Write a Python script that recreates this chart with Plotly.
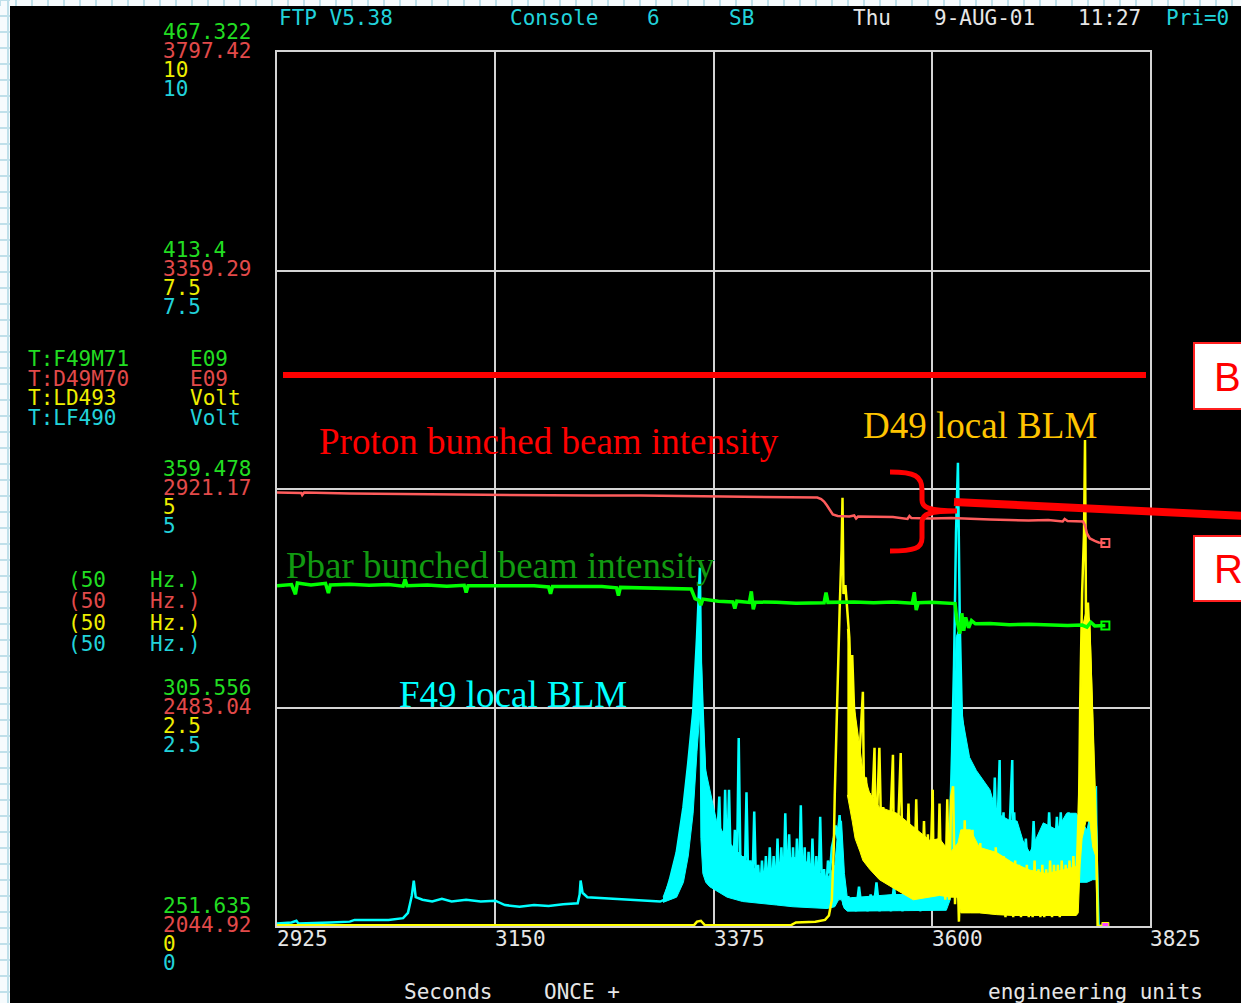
import plotly.graph_objects as go

W, H = 1241, 1003

# ---------------- data ----------------
x_tick_vals = [2925, 3150, 3375, 3600, 3825]
volt_grid = [10, 7.5, 5, 2.5, 0]
green_tick_labels = ["467.322", "413.4", "359.478", "305.556", "251.635"]
red_tick_labels = ["3797.42", "3359.29", "2921.17", "2483.04", "2044.92"]
yellow_tick_labels = ["10", "7.5", "5", "2.5", "0"]
cyan_tick_labels = ["10", "7.5", "5", "2.5", "0"]
green_range = [251.635, 467.322]
red_range = [2044.92, 3797.42]

channels = ["T:F49M71", "T:D49M70", "T:LD493", "T:LF490"]
units = ["E09", "E09", "Volt", "Volt"]

# T:D49M70 proton bunched intensity (E09)
d49m70 = [(2925, 2914), (2950, 2913), (2951, 2909), (2953, 2914), (3000, 2912), (3050, 2911),
          (3100, 2911), (3150, 2910), (3200, 2909), (3250, 2908), (3300, 2908), (3350, 2907),
          (3400, 2906), (3450, 2905), (3482, 2904), (3486, 2901), (3489, 2896), (3492, 2888),
          (3495, 2878), (3498, 2870), (3503, 2867), (3515, 2866), (3520, 2868), (3522, 2862),
          (3524, 2866), (3560, 2865), (3575, 2861), (3577, 2867), (3579, 2863), (3600, 2862),
          (3620, 2863), (3640, 2861), (3660, 2860), (3680, 2859), (3700, 2858), (3720, 2859),
          (3735, 2856), (3737, 2861), (3740, 2857), (3756, 2856), (3758, 2848), (3760, 2832),
          (3763, 2822), (3768, 2817), (3772, 2814), (3779, 2813)]

# T:F49M71 pbar bunched intensity (E09)
f49m71 = [(2925, 335.6), (2940, 335.9), (2944, 333.5), (2946, 336.3), (2960, 335.8), (2975, 336.2),
          (2978, 333.8), (2980, 335.8), (3000, 336.0), (3020, 335.7), (3040, 335.9), (3055, 335.5),
          (3057, 337.2), (3059, 335.6), (3080, 335.8), (3100, 335.5), (3118, 335.7), (3120, 333.9),
          (3122, 335.6), (3150, 335.6), (3175, 335.4), (3190, 335.6), (3205, 335.3), (3207, 333.6),
          (3209, 335.4), (3240, 335.3), (3260, 335.4), (3275, 335.1), (3277, 333.2), (3279, 335.2),
          (3300, 335.1), (3320, 334.9), (3340, 335.0), (3352, 334.8), (3356, 332.4), (3360, 332.0),
          (3362, 330.8), (3364, 332.3), (3380, 331.8), (3395, 331.6), (3397, 330.0), (3399, 331.8),
          (3412, 331.5), (3414, 334.2), (3416, 329.8), (3418, 331.6), (3440, 331.5), (3460, 331.3),
          (3489, 331.4), (3491, 333.9), (3493, 331.5), (3520, 331.6), (3540, 331.4), (3560, 331.6),
          (3580, 331.3), (3582, 334.0), (3584, 329.6), (3586, 331.4), (3600, 331.5), (3615, 331.4),
          (3624, 331.2), (3626, 327.0), (3629, 323.8), (3631, 328.8), (3633, 324.5), (3635, 327.8),
          (3638, 325.2), (3641, 327.0), (3645, 326.2), (3660, 326.3), (3680, 326.0), (3700, 326.1),
          (3720, 325.9), (3740, 325.8), (3755, 325.9), (3760, 325.4), (3764, 326.6), (3768, 325.7),
          (3779, 325.8)]

# T:LF490 F49 local BLM (Volt) - trace with spikes
lf490 = [(2925, 0.03), (2940, 0.04), (2945, 0.06), (2947, 0.03), (2980, 0.04), (3000, 0.05),
         (3005, 0.07), (3040, 0.07), (3055, 0.09), (3060, 0.15), (3062, 0.25), (3064, 0.35),
         (3066, 0.52), (3068, 0.33), (3075, 0.30), (3085, 0.28), (3095, 0.31), (3105, 0.28),
         (3120, 0.30), (3135, 0.28), (3150, 0.29), (3160, 0.24), (3175, 0.22), (3190, 0.24),
         (3205, 0.23), (3220, 0.25), (3235, 0.26), (3237, 0.36), (3238, 0.52), (3240, 0.38),
         (3245, 0.33), (3260, 0.32), (3275, 0.31), (3290, 0.30), (3305, 0.29), (3320, 0.28),
         (3324, 0.3), (3330, 0.53), (3337, 0.84), (3344, 1.36), (3349, 1.87), (3354, 2.44),
         (3358, 3.3), (3361, 4.1), (3362, 3.0), (3364, 2.4), (3366, 1.8), (3368, 1.6), (3371, 1.3),
         (3373, 0.7), (3375, 1.1), (3377, 0.6), (3379, 1.0), (3381, 1.48), (3383, 0.6),
         (3385, 0.5), (3387, 1.56), (3389, 0.6), (3391, 1.56), (3393, 0.6), (3395, 0.55),
         (3397, 1.1), (3399, 0.5), (3401, 2.15), (3403, 0.5), (3405, 0.8), (3407, 0.4),
         (3409, 1.53), (3411, 0.4), (3413, 0.75), (3415, 0.4), (3417, 1.31), (3419, 0.38),
         (3421, 0.7), (3423, 0.35), (3425, 0.75), (3427, 0.35), (3429, 0.8), (3431, 0.33),
         (3433, 0.9), (3435, 0.32), (3437, 0.8), (3439, 0.33), (3441, 1.0), (3443, 0.32),
         (3445, 0.9), (3447, 0.32), (3449, 1.29), (3451, 0.33), (3453, 1.05), (3455, 0.32),
         (3457, 0.9), (3459, 0.3), (3461, 1.0), (3463, 0.32), (3465, 1.38), (3467, 0.3),
         (3469, 0.9), (3471, 0.3), (3473, 0.85), (3475, 0.3), (3477, 1.0), (3479, 0.3),
         (3481, 0.8), (3483, 0.32), (3485, 1.25), (3487, 0.32), (3489, 0.65), (3491, 0.35),
         (3493, 0.75), (3495, 0.6), (3497, 0.9), (3499, 1.0), (3501, 1.15), (3503, 1.0),
         (3505, 1.27), (3507, 0.9), (3509, 0.25), (3511, 0.2),
         (3514, 0.34), (3516, 0.18), (3519, 0.33), (3522, 0.17), (3525, 0.45), (3528, 0.18),
         (3531, 0.32), (3534, 0.17), (3537, 0.36), (3540, 0.18), (3543, 0.5), (3546, 0.17),
         (3549, 0.34), (3552, 0.18), (3555, 0.31), (3558, 0.17), (3561, 0.45), (3564, 0.18),
         (3567, 0.3), (3570, 0.17), (3573, 0.5), (3576, 0.18), (3579, 0.35), (3582, 0.18),
         (3585, 0.45), (3588, 0.17), (3591, 0.34), (3594, 0.19), (3597, 0.5), (3600, 0.18),
         (3603, 0.33), (3606, 0.19), (3609, 0.45), (3612, 0.2), (3615, 0.4), (3617, 0.8),
         (3619, 1.2), (3621, 2.0), (3623, 3.0), (3625, 4.5), (3627, 5.3),
         (3629, 3.4), (3631, 2.4), (3633, 2.2), (3635, 1.6), (3637, 2.0), (3639, 1.4),
         (3641, 1.8), (3643, 1.2), (3645, 1.7), (3647, 1.1), (3649, 1.5), (3651, 1.0),
         (3653, 1.6), (3655, 0.95), (3657, 1.4), (3659, 0.9), (3661, 1.3), (3663, 0.9),
         (3665, 1.7), (3667, 0.85), (3670, 1.9), (3671, 0.8), (3674, 1.3), (3675, 0.8),
         (3677, 1.1), (3679, 0.75), (3683, 1.9), (3684, 0.7), (3685, 1.3), (3687, 0.7),
         (3689, 0.9), (3691, 0.65), (3693, 0.85), (3695, 0.65), (3697, 1.0), (3699, 0.65),
         (3701, 0.85), (3703, 0.7), (3705, 1.2), (3707, 0.7), (3709, 0.9), (3711, 0.7),
         (3713, 1.05), (3715, 0.75), (3717, 1.0), (3719, 0.8), (3721, 1.3), (3723, 0.8),
         (3725, 1.1), (3727, 0.85), (3729, 1.25), (3731, 0.85), (3733, 1.3), (3735, 0.9),
         (3737, 1.2), (3739, 0.9), (3741, 1.3), (3743, 0.9), (3745, 1.2), (3747, 0.85),
         (3749, 1.1), (3751, 0.8), (3753, 0.9), (3757, 0.8), (3761, 0.7), (3765, 1.64),
         (3767, 0.6), (3769, 1.2), (3771, 0.5), (3772, 0.0), (3779, 0.0)]

# LF490 dense noise band (time, low, high)
lf490_band = [(3323, 0.27, 0.33), (3330, 0.3, 0.53), (3337, 0.33, 0.84), (3344, 0.5, 1.36),
              (3349, 0.8, 1.87), (3354, 1.29, 2.44), (3358, 2.0, 3.2), (3361, 2.44, 4.0),
              (3362, 1.0, 3.3), (3364, 0.6, 2.44), (3367, 0.5, 1.78), (3371, 0.45, 1.56),
              (3378, 0.4, 1.21), (3389, 0.33, 0.98), (3405, 0.28, 0.79), (3423, 0.26, 0.6),
              (3440, 0.24, 0.68), (3457, 0.22, 0.79), (3474, 0.21, 0.72), (3492, 0.2, 0.53),
              (3500, 0.22, 0.7), (3504, 0.3, 1.2), (3507, 0.3, 1.2), (3510, 0.2, 0.6),
              (3513, 0.17, 0.32), (3560, 0.17, 0.36), (3615, 0.18, 0.36), (3619, 0.3, 1.0),
              (3622, 0.6, 2.2), (3625, 0.9, 3.3), (3628, 0.9, 3.4), (3630, 0.9, 2.7),
              (3632, 0.9, 2.36), (3639, 0.8, 1.93), (3646, 0.7, 1.78), (3653, 0.6, 1.67),
              (3660, 0.6, 1.56), (3667, 0.55, 1.29), (3680, 0.55, 1.21), (3688, 0.55, 1.2),
              (3694, 0.5, 0.98), (3701, 0.5, 0.84), (3715, 0.5, 1.18), (3729, 0.5, 1.1),
              (3739, 0.5, 1.29), (3749, 0.5, 1.29), (3760, 0.5, 1.1), (3766, 0.53, 1.4),
              (3770, 0.53, 1.6), (3771, 0.0, 0.5)]

# T:LD493 D49 local BLM (Volt) - trace with spikes
ld493 = [(2925, 0.01), (3355, 0.01), (3358, 0.05), (3362, 0.06), (3366, 0.01), (3455, 0.01),
         (3460, 0.04), (3480, 0.05), (3490, 0.07), (3494, 0.12), (3497, 0.3), (3499, 0.9),
         (3500, 1.5), (3501, 1.93), (3502, 2.5), (3503, 3.0), (3505, 3.6), (3507, 4.3),
         (3508, 4.9), (3509, 3.8), (3511, 3.9), (3513, 3.6), (3515, 3.3), (3517, 2.6),
         (3518, 3.1), (3520, 2.44),
         (3522, 2.2), (3524, 1.8), (3526, 2.05), (3529, 2.68), (3530, 1.6), (3532, 1.7),
         (3534, 1.4), (3536, 1.52), (3538, 1.2), (3541, 2.04), (3542, 1.1), (3544, 1.4),
         (3546, 2.04), (3548, 1.0), (3550, 1.36), (3552, 0.9), (3554, 1.3), (3556, 0.8),
         (3560, 1.96), (3561, 0.75), (3562, 1.2), (3564, 0.7), (3566, 1.29), (3568, 1.98),
         (3570, 0.65), (3572, 1.2), (3574, 0.6), (3576, 1.4), (3578, 0.55), (3580, 1.13),
         (3582, 0.5), (3584, 1.45), (3586, 0.5), (3588, 1.0), (3590, 0.45), (3592, 1.2),
         (3594, 0.45), (3596, 1.05), (3598, 0.4), (3601, 1.56), (3602, 0.4), (3604, 0.98),
         (3606, 0.35), (3608, 1.4), (3610, 0.35), (3612, 0.9), (3614, 0.3), (3616, 1.45),
         (3618, 0.3), (3620, 1.48), (3622, 1.6), (3624, 0.25), (3626, 0.9), (3628, 0.05),
         (3630, 0.8), (3632, 0.2), (3634, 1.21), (3636, 0.25), (3638, 0.95), (3640, 0.2),
         (3642, 1.1), (3644, 0.2), (3646, 0.9), (3648, 0.2), (3650, 0.95), (3652, 0.15),
         (3654, 0.8), (3656, 0.2), (3658, 0.85), (3660, 0.15), (3662, 0.7), (3664, 0.15),
         (3666, 0.9), (3668, 0.15), (3670, 0.7), (3672, 0.15), (3674, 0.8), (3676, 0.1),
         (3678, 0.75), (3680, 0.15), (3682, 0.7), (3684, 0.1), (3686, 0.75), (3688, 0.15),
         (3690, 0.7), (3692, 0.1), (3694, 0.6), (3696, 0.12), (3698, 0.7), (3700, 0.1),
         (3702, 0.6), (3704, 0.1), (3706, 0.75), (3708, 0.12), (3710, 0.65), (3712, 0.1),
         (3714, 0.7), (3716, 0.1), (3718, 0.65), (3720, 0.12), (3722, 0.75), (3724, 0.1),
         (3726, 0.7), (3728, 0.12), (3730, 0.7), (3732, 0.1), (3734, 0.75), (3736, 0.12),
         (3738, 0.7), (3740, 0.15), (3742, 0.75), (3744, 0.12), (3746, 0.8), (3748, 0.2),
         (3750, 0.8), (3752, 1.5), (3753, 2.5), (3754, 3.3), (3755, 3.8), (3757, 4.5),
         (3758, 5.56), (3759, 3.5), (3761, 3.7), (3763, 3.2), (3765, 2.6), (3767, 1.8),
         (3769, 1.18), (3770, 0.84), (3771, 0.0), (3779, 0.0)]

# LD493 dense noise band (time, low, high)
ld493_band = [(3513, 1.5, 3.4), (3518, 1.2, 2.7), (3521, 1.0, 2.44), (3526, 0.85, 2.05),
              (3529, 0.75, 1.78), (3536, 0.65, 1.52), (3546, 0.53, 1.36), (3564, 0.41, 1.29),
              (3581, 0.3, 1.13), (3598, 0.33, 0.98), (3608, 0.35, 1.0), (3619, 0.33, 0.84),
              (3627, 0.33, 0.95), (3630, 0.15, 1.1), (3640, 0.15, 1.1), (3649, 0.15, 0.9),
              (3667, 0.13, 0.84), (3684, 0.12, 0.72), (3701, 0.12, 0.64), (3718, 0.12, 0.6),
              (3735, 0.12, 0.64), (3749, 0.12, 0.68), (3751, 0.15, 0.9), (3753, 0.7, 2.4),
              (3755, 1.0, 3.4), (3759, 1.2, 3.6), (3763, 1.2, 3.5), (3766, 0.9, 2.4),
              (3769, 0.8, 1.18), (3770, 0.3, 0.84)]

# ---------------- helpers (pixel -> paper) ----------------
def px(x):
    return x / W


def py(y):
    return 1 - y / H


PLOT_L, PLOT_R, PLOT_T, PLOT_B = 277, 1150, 52, 926

C_GREEN, C_RED, C_YEL, C_CYAN = "#00ff00", "#ff5c5c", "#ffff00", "#00ffff"
L_GREEN, L_RED, L_YEL, L_CYAN = "#22dd22", "#e24a4a", "#eeee00", "#22d2da"
MONO = "DejaVu Sans Mono"
SERIF = "Liberation Serif"
MSIZE = 21


def unzip(pairs):
    return [p[0] for p in pairs], [p[1] for p in pairs]


def band_polygon(band):
    ts = [b[0] for b in band]
    lo = [b[1] for b in band]
    hi = [b[2] for b in band]
    return ts + ts[::-1], hi + lo[::-1]


fig = go.Figure()

bx, by = band_polygon(lf490_band)
fig.add_trace(go.Scatter(x=bx, y=by, mode="lines", fill="toself", fillcolor=C_CYAN,
                         line=dict(width=1, color=C_CYAN), yaxis="y"))
t, v = unzip(lf490)
fig.add_trace(go.Scatter(x=t, y=v, mode="lines", line=dict(color=C_CYAN, width=2.5), yaxis="y"))
bx, by = band_polygon(ld493_band)
fig.add_trace(go.Scatter(x=bx, y=by, mode="lines", fill="toself", fillcolor=C_YEL,
                         line=dict(width=1, color=C_YEL), yaxis="y"))
t, v = unzip(ld493)
fig.add_trace(go.Scatter(x=t, y=v, mode="lines", line=dict(color=C_YEL, width=2.5), yaxis="y"))
t, v = unzip(f49m71)
fig.add_trace(go.Scatter(x=t, y=v, mode="lines", line=dict(color=C_GREEN, width=3.5), yaxis="y2"))
fig.add_trace(go.Scatter(x=[t[-1]], y=[v[-1]], mode="markers", yaxis="y2",
                         marker=dict(symbol="square-open", size=8, color=C_GREEN, line=dict(width=2, color=C_GREEN))))
t, v = unzip(d49m70)
fig.add_trace(go.Scatter(x=t, y=v, mode="lines", line=dict(color=C_RED, width=2.5), yaxis="y3"))
fig.add_trace(go.Scatter(x=[t[-1]], y=[v[-1]], mode="markers", yaxis="y3",
                         marker=dict(symbol="square-open", size=8, color=C_RED, line=dict(width=2, color=C_RED))))
t, v = unzip(lf490)
fig.add_trace(go.Scatter(x=[t[-1]], y=[v[-1]], mode="markers", yaxis="y",
                         marker=dict(symbol="square", size=7, color="#ff44ff", line=dict(width=1, color=C_YEL))))

grid_col = "#d4d4d4"
dom_x = [px(PLOT_L), px(PLOT_R)]
dom_y = [py(PLOT_B), py(PLOT_T)]

fig.update_layout(
    width=W, height=H,
    margin=dict(l=0, r=0, t=0, b=0),
    paper_bgcolor="#f6fbfd",
    plot_bgcolor="#000000",
    showlegend=False,
    xaxis=dict(domain=dom_x, range=[x_tick_vals[0], x_tick_vals[-1]], tickvals=x_tick_vals,
               showticklabels=False, ticks="", showgrid=True, gridcolor=grid_col, gridwidth=2,
               zeroline=False, showline=True, linecolor=grid_col, linewidth=2, mirror=True),
    yaxis=dict(domain=dom_y, range=[volt_grid[-1], volt_grid[0]], tickvals=volt_grid,
               showticklabels=False, ticks="", showgrid=True, gridcolor=grid_col, gridwidth=2,
               zeroline=False, showline=True, linecolor=grid_col, linewidth=2, mirror=True),
    yaxis2=dict(overlaying="y", range=green_range, visible=False),
    yaxis3=dict(overlaying="y", range=red_range, visible=False),
)

shapes = []
# grid paper strips and black panel
for gy in range(0, H, 16):
    shapes.append(dict(type="line", xref="paper", yref="paper", x0=0, x1=px(10), y0=py(gy), y1=py(gy),
                       line=dict(color="#bfe0ea", width=2), layer="below"))
for gx in range(0, W, 16):
    shapes.append(dict(type="line", xref="paper", yref="paper", x0=px(gx), x1=px(gx), y0=1, y1=py(6),
                       line=dict(color="#bfe0ea", width=2), layer="below"))
shapes.append(dict(type="line", xref="paper", yref="paper", x0=px(8), x1=px(8), y0=0, y1=1,
                   line=dict(color="#bfe0ea", width=2), layer="below"))
shapes.append(dict(type="rect", xref="paper", yref="paper", x0=px(10), x1=1.0, y0=0, y1=py(6),
                   fillcolor="#000000", line=dict(width=0), layer="below"))

# red marker line
shapes.append(dict(type="line", xref="paper", yref="paper", x0=px(283), x1=px(1146), y0=py(375), y1=py(375),
                   line=dict(color="#ff0000", width=6)))
# brace
pts = [(890, 472), (915, 472), (922, 476), (922, 490), (922, 500), (922, 508), (930, 511), (957, 511),
       (930, 511), (922, 514), (922, 522), (922, 538), (922, 548), (915, 551), (890, 551)]
P = [(px(a), py(b)) for a, b in pts]
path = ("M {0[0]} {0[1]} C {1[0]} {1[1]}, {2[0]} {2[1]}, {3[0]} {3[1]} L {4[0]} {4[1]} "
        "C {5[0]} {5[1]}, {6[0]} {6[1]}, {7[0]} {7[1]} C {8[0]} {8[1]}, {9[0]} {9[1]}, {10[0]} {10[1]} "
        "L {11[0]} {11[1]} C {12[0]} {12[1]}, {13[0]} {13[1]}, {14[0]} {14[1]}").format(*P)
shapes.append(dict(type="path", xref="paper", yref="paper", path=path, line=dict(color="#ff0000", width=5)))
shapes.append(dict(type="line", xref="paper", yref="paper", x0=px(954), x1=px(1245), y0=py(502), y1=py(516),
                   line=dict(color="#ff0000", width=8)))
# boxes B, R
for y0, y1 in [(343, 409), (536, 601)]:
    shapes.append(dict(type="rect", xref="paper", yref="paper", x0=px(1194), x1=px(1262), y0=py(y1), y1=py(y0),
                       fillcolor="#ffffff", line=dict(color="#ff2020", width=2)))
fig.update_layout(shapes=shapes)

ann = []


def txt(x, y, s, color, size=MSIZE, font=MONO, xanchor="left"):
    ann.append(dict(xref="paper", yref="paper", x=px(x), y=py(y), text=s, showarrow=False,
                    xanchor=xanchor, yanchor="middle", font=dict(family=font, size=size, color=color)))


# header
txt(277, 18, "FTP V5.38", L_CYAN)
txt(508, 18, "Console", L_CYAN)
txt(645, 18, "6", L_CYAN)
txt(727, 18, "SB", L_CYAN)
txt(851, 18, "Thu", "#e6e6e6")
txt(932, 18, "9-AUG-01", "#e6e6e6")
txt(1076, 18, "11:27", "#e6e6e6")
txt(1164, 18, "Pri=0", L_CYAN)

# left tick label groups
offsets = [20, 1, -18, -37]
cols = [L_GREEN, L_RED, L_YEL, L_CYAN]
for i, gv in enumerate(volt_grid):
    labs = [green_tick_labels[i], red_tick_labels[i], yellow_tick_labels[i], cyan_tick_labels[i]]
    for lab, off, c in zip(labs, offsets, cols):
        ann.append(dict(xref="paper", yref="y", x=px(161), y=gv, yshift=off, text=lab, showarrow=False,
                        xanchor="left", yanchor="middle", font=dict(family=MONO, size=MSIZE, color=c)))

# channel block
for k, (ch, un, c) in enumerate(zip(channels, units, cols)):
    txt(26, 359 + k * 19.5, ch, c)
    txt(188, 359 + k * 19.5, un, c)
    txt(66, 580 + k * 21.3, "(50", c)
    txt(148, 580 + k * 21.3, "Hz.)", c)

# x tick labels
for xv in x_tick_vals:
    ann.append(dict(xref="x", yref="paper", x=xv, y=py(939), text=str(xv), showarrow=False,
                    xanchor="left", yanchor="middle", xshift=-2, font=dict(family=MONO, size=MSIZE, color="#e6e6e6")))

txt(402, 992, "Seconds", "#e6e6e6")
txt(542, 992, "ONCE +", "#e6e6e6")
txt(986, 992, "engineering units", "#e6e6e6")

# descriptive labels
txt(317, 442, "Proton bunched beam intensity", "#ff0000", size=37, font=SERIF)
txt(284, 565, "Pbar bunched beam intensity", "#119a11", size=37, font=SERIF)
txt(397, 694, "F49 local BLM", "#00ffff", size=37, font=SERIF)
txt(861, 425, "D49 local BLM", "#ffc400", size=37, font=SERIF)
txt(1212, 377, "B", "#ff0000", size=40, font="Liberation Sans")
txt(1212, 569, "R", "#ff0000", size=40, font="Liberation Sans")

fig.update_layout(annotations=ann)
fig.write_html("out.html", config={"displayModeBar": False},
               post_script="document.body.style.margin='0';document.body.style.overflow='hidden';")
